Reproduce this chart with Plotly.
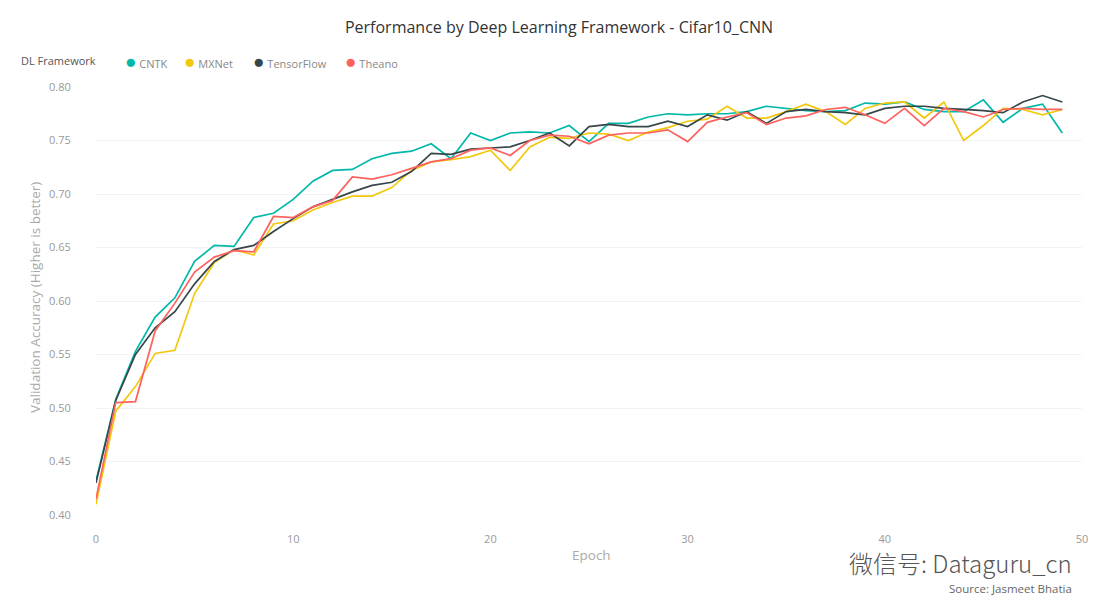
import plotly.graph_objects as go

epochs = list(range(50))

cntk = [0.432, 0.508, 0.553, 0.585, 0.603, 0.637, 0.652, 0.651, 0.678, 0.682,
        0.695, 0.712, 0.722, 0.723, 0.733, 0.738, 0.740, 0.747, 0.733, 0.757,
        0.750, 0.757, 0.758, 0.757, 0.764, 0.749, 0.766, 0.766, 0.772, 0.775,
        0.774, 0.775, 0.775, 0.777, 0.782, 0.780, 0.778, 0.777, 0.778, 0.785,
        0.784, 0.786, 0.779, 0.777, 0.777, 0.788, 0.767, 0.780, 0.784, 0.757]

mxnet = [0.410, 0.497, 0.520, 0.551, 0.554, 0.607, 0.636, 0.648, 0.643, 0.672,
         0.675, 0.685, 0.692, 0.698, 0.698, 0.706, 0.722, 0.730, 0.732, 0.735,
         0.741, 0.722, 0.744, 0.753, 0.752, 0.757, 0.756, 0.750, 0.758, 0.762,
         0.768, 0.770, 0.782, 0.771, 0.771, 0.777, 0.784, 0.777, 0.765, 0.780,
         0.785, 0.786, 0.771, 0.786, 0.750, 0.764, 0.780, 0.779, 0.774, 0.779]

tensorflow = [0.430, 0.507, 0.550, 0.575, 0.590, 0.616, 0.637, 0.648, 0.652, 0.665,
              0.677, 0.688, 0.695, 0.702, 0.708, 0.711, 0.721, 0.738, 0.737, 0.742,
              0.743, 0.744, 0.750, 0.757, 0.745, 0.763, 0.765, 0.763, 0.763, 0.768,
              0.763, 0.774, 0.769, 0.777, 0.766, 0.777, 0.779, 0.777, 0.776, 0.774,
              0.780, 0.782, 0.782, 0.780, 0.779, 0.778, 0.776, 0.786, 0.792, 0.786]

theano = [0.415, 0.505, 0.506, 0.572, 0.598, 0.627, 0.641, 0.647, 0.646, 0.679,
          0.678, 0.688, 0.694, 0.716, 0.714, 0.718, 0.724, 0.730, 0.733, 0.741,
          0.743, 0.736, 0.750, 0.755, 0.754, 0.747, 0.755, 0.757, 0.757, 0.760,
          0.749, 0.767, 0.772, 0.776, 0.765, 0.771, 0.773, 0.779, 0.781, 0.774,
          0.766, 0.780, 0.764, 0.780, 0.777, 0.772, 0.779, 0.780, 0.779, 0.779]

series_names = ["CNTK", "MXNet", "TensorFlow", "Theano"]
series_values = [cntk, mxnet, tensorflow, theano]
colors = ["#01B8AA", "#F2C80F", "#374649", "#FD625E"]

x_ticks = [0, 10, 20, 30, 40, 50]
y_ticks = [0.40, 0.45, 0.50, 0.55, 0.60, 0.65, 0.70, 0.75, 0.80]

FONT = "Open Sans"

# The page adds an 8px body margin, so the figure is 8px smaller and
# every target screen position is shifted by 8px.
OFF = 8
W, H = 1096 - OFF, 608 - OFF
L, R, T, B = 96 - OFF, 14, 87 - OFF, 93
PW, PH = W - L - R, H - T - B


def px_x(p):
    return (p - OFF - L) / PW


def px_y(p):
    return (H - B - (p - OFF)) / PH


fig = go.Figure()
for name, vals, col in zip(series_names, series_values, colors):
    fig.add_trace(go.Scatter(x=epochs, y=vals, mode="lines", name=name,
                             line=dict(color=col, width=1.7),
                             showlegend=False))

annotations = [
    dict(text="Validation Accuracy (Higher is better)", xref="paper", yref="paper",
         x=px_x(35), y=px_y(298), textangle=-90, showarrow=False,
         xanchor="center", yanchor="middle",
         font=dict(family=FONT, size=13.5, color="#aaaaaa")),
    dict(text="Epoch", xref="paper", yref="paper", x=px_x(591), y=px_y(555),
         showarrow=False, xanchor="center", yanchor="middle",
         font=dict(family=FONT, size=13.5, color="#aaaaaa")),
    dict(text="Source: Jasmeet Bhatia", xref="paper", yref="paper", x=px_x(1074), y=px_y(588),
         showarrow=False, xanchor="right", yanchor="middle",
         font=dict(family=FONT, size=11.5, color="#666666")),
    dict(text="微信号: Dataguru_cn", xref="paper", yref="paper", x=px_x(1074), y=px_y(562.5),
         showarrow=False, xanchor="right", yanchor="middle",
         font=dict(family="Noto Sans CJK SC", size=24, color="#555555", weight=300)),
    dict(text="DL Framework", xref="paper", yref="paper", x=px_x(19), y=px_y(61),
         showarrow=False, xanchor="left", yanchor="middle",
         font=dict(family=FONT, size=11, color="#555555")),
]

# manual legend (Power BI style: circle + name)
legend_left = [123, 182, 251, 343]
for name, col, lx in zip(series_names, colors, legend_left):
    annotations.append(dict(
        text=f"<span style='color:{col};font-size:19px'>●</span> {name}",
        xref="paper", yref="paper", x=px_x(lx), y=px_y(61),
        showarrow=False, xanchor="left", yanchor="middle",
        font=dict(family=FONT, size=11, color="#888888")))

fig.update_layout(
    width=W, height=H,
    paper_bgcolor="white", plot_bgcolor="white",
    margin=dict(l=L, r=R, t=T, b=B, autoexpand=False),
    font=dict(family=FONT, color="#777777", size=11),
    showlegend=False,
    title=dict(text="Performance by Deep Learning Framework - Cifar10_CNN",
               x=px_x(559), xanchor="center", xref="paper",
               y=(H - (27 - OFF)) / H, yanchor="middle",
               font=dict(family=FONT, size=16, color="#333333")),
    xaxis=dict(range=[0, 50], tickvals=x_ticks, ticktext=[str(v) for v in x_ticks],
               showgrid=False, zeroline=False, showline=False,
               ticks="outside", ticklen=14, tickcolor="rgba(0,0,0,0)",
               tickfont=dict(size=11, color="#999999")),
    yaxis=dict(range=[0.40, 0.80], tickvals=y_ticks,
               ticktext=[f"{v:.2f}" for v in y_ticks],
               showgrid=True, gridcolor="#f3f3f3", gridwidth=1,
               zeroline=False, showline=False,
               ticks="outside", ticklen=22, tickcolor="rgba(0,0,0,0)",
               tickfont=dict(size=11, color="#999999")),
    annotations=annotations,
)

fig.write_html("out.html")
